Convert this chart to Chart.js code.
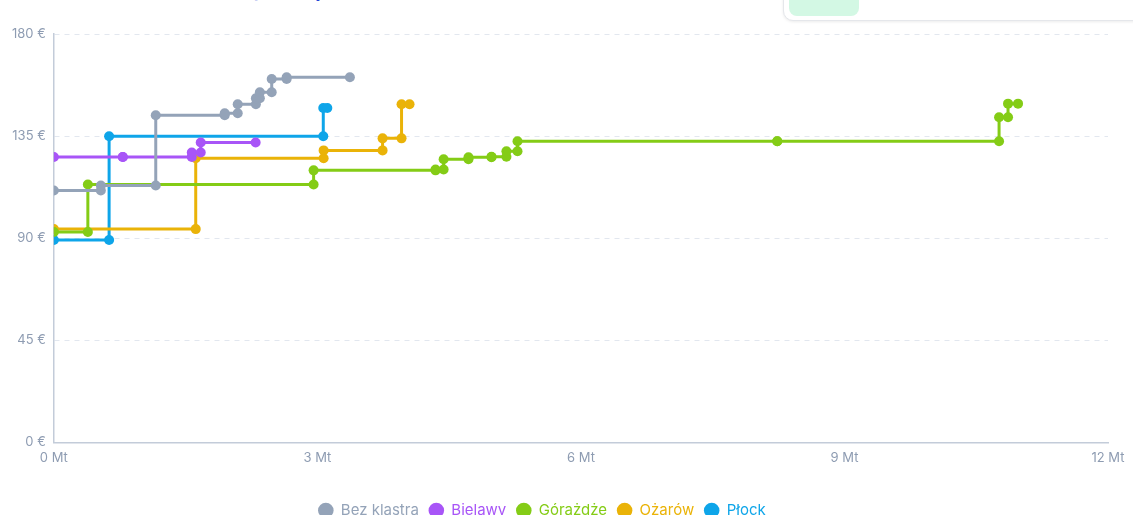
<!DOCTYPE html>
<html lang="pl">
<head>
    <meta charset="UTF-8">
    <title>Krzywa kosztów</title>
    <script src="https://cdn.jsdelivr.net/npm/chart.js"></script>
    <style>
        body { margin: 0; background: #fff; overflow: hidden; font-family: Inter, "Noto Sans", sans-serif; }
        #title { position: absolute; left: 160px; top: -23px; margin: 0; font-size: 22px; font-weight: 600; color: #2447d6; white-space: nowrap; }
        #card { position: absolute; left: 783px; top: -40px; width: 380px; height: 59px; border: 1px solid #e5e7eb; border-radius: 10px; box-shadow: 0 1px 3px rgba(0,0,0,0.08); background: #fff; }
        #pill { position: absolute; left: 5px; bottom: 4px; width: 70px; height: 26px; border-radius: 8px; background: #d3f8e4; }
        #wrap { position: absolute; left: 0; top: 0; width: 1133px; height: 528px; }
    </style>
</head>
<body>
    <h2 id="title">Koszt (€ / tona)</h2>
    <div id="card"><div id="pill"></div></div>
    <div id="wrap"><canvas id="chart"></canvas></div>

    <script>
        // granice skumulowanej zdolności (Mt) i koszt (€) dla każdego odcinka
        const bezKlastraCap = [0, 0.535, 1.16, 1.945, 2.093, 2.30, 2.345, 2.48, 2.65, 3.37];
        const bezKlastraCost = [111.0, 113.2, 144.2, 145.1, 149.0, 151.7, 154.3, 160.2, 160.9];

        const bielawyCap = [0, 0.785, 1.57, 1.672, 2.297];
        const bielawyCost = [125.8, 125.8, 127.8, 132.2];

        const gorazdzeCap = [0, 0.387, 2.957, 4.345, 4.437, 4.72, 4.982, 5.152, 5.278, 8.235, 10.76, 10.862, 10.976];
        const gorazdzeCost = [92.7, 113.7, 119.9, 120.3, 124.8, 125.7, 125.9, 128.3, 132.7, 132.7, 143.3, 149.3];

        const ozarowCap = [0, 1.615, 3.071, 3.742, 3.958, 4.049];
        const ozarowCost = [94.0, 125.2, 128.7, 134.0, 149.0];

        const plockCap = [0, 0.629, 3.067, 3.113];
        const plockCost = [89.2, 134.9, 147.4];

        const xTicks = [0, 3, 6, 9, 12];
        const yTicks = [0, 45, 90, 135, 180];

        function steps(cap, cost) {
            const pts = [];
            for (let i = 0; i < cost.length; i++) {
                pts.push({ x: cap[i], y: cost[i] });
                pts.push({ x: cap[i + 1], y: cost[i] });
            }
            return pts;
        }

        function series(label, cap, cost, color) {
            return {
                label: label,
                data: steps(cap, cost),
                borderColor: color,
                backgroundColor: color,
                borderWidth: 3,
                pointRadius: 5,
                pointHoverRadius: 6,
                pointBorderWidth: 0,
                tension: 0,
                fill: false
            };
        }

        const tickColor = "#8e9cb2";

        // legenda jest lekko przesunięta w lewo względem środka
        const legendShift = {
            id: "legendShift",
            afterLayout(chart) {
                chart.legend.left -= 14;
                chart.legend.right -= 14;
            }
        };

        new Chart(document.getElementById("chart"), {
            type: "line",
            data: {
                datasets: [
                    series("Bez klastra", bezKlastraCap, bezKlastraCost, "#94a3b8"),
                    series("Bielawy", bielawyCap, bielawyCost, "#a855f7"),
                    series("Górażdże", gorazdzeCap, gorazdzeCost, "#84cc16"),
                    series("Ożarów", ozarowCap, ozarowCost, "#eab308"),
                    series("Płock", plockCap, plockCost, "#0ea5e9")
                ]
            },
            plugins: [legendShift],
            options: {
                responsive: true,
                maintainAspectRatio: false,
                animation: false,
                layout: { padding: { left: 4, right: 25, top: 34, bottom: 0 } },
                scales: {
                    x: {
                        type: "linear",
                        min: 0,
                        max: 12,
                        afterBuildTicks: axis => { axis.ticks = xTicks.map(v => ({ value: v })); },
                        afterFit: axis => { axis.height += 19; },
                        grid: { display: false, drawTicks: false },
                        border: { color: "#c3ccd9", width: 1.5 },
                        ticks: {
                            color: tickColor,
                            font: { family: "Inter", size: 13 },
                            padding: 8,
                            callback: v => v + " Mt"
                        }
                    },
                    y: {
                        min: 0,
                        max: 180,
                        afterBuildTicks: axis => { axis.ticks = yTicks.map(v => ({ value: v })); },
                        grid: { color: "#e2e7ef", drawTicks: false },
                        border: { color: "#c3ccd9", width: 1.5, dash: [5, 5] },
                        ticks: {
                            color: tickColor,
                            font: { family: "Inter", size: 13 },
                            padding: 8,
                            callback: v => v + " €"
                        }
                    }
                },
                plugins: {
                    legend: {
                        position: "bottom",
                        labels: {
                            usePointStyle: true,
                            boxHeight: 11,
                            padding: 10,
                            font: { family: "Inter", size: 15 },
                            generateLabels: chart => {
                                const items = Chart.defaults.plugins.legend.labels.generateLabels(chart);
                                items.forEach(it => {
                                    const ds = chart.data.datasets[it.datasetIndex];
                                    it.fontColor = ds.borderColor;
                                    it.fillStyle = ds.borderColor;
                                    it.strokeStyle = ds.borderColor;
                                    it.lineWidth = 0;
                                });
                                return items;
                            }
                        }
                    },
                    tooltip: { enabled: true }
                }
            }
        });
    </script>
</body>
</html>
